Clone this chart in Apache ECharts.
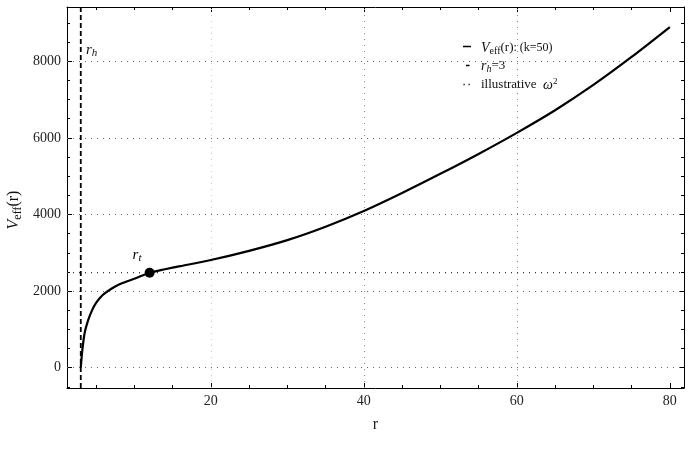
<!DOCTYPE html>
<html>
<head>
<meta charset="utf-8">
<script src="https://cdn.jsdelivr.net/npm/echarts@6/dist/echarts.min.js"></script>
<style>
  html, body { margin: 0; padding: 0; background: #fff; }
  #chart { width: 691px; height: 459px; }
</style>
</head>
<body>
<div id="chart"></div>
<script>
// values
const rValues = [3, 3.2, 3.5, 4, 4.5, 5, 5.5, 6, 7, 8, 9, 10, 12, 14, 16, 20, 25, 30, 35, 40, 45, 50, 55, 60, 65, 70, 75, 80];
const vValues = [0, 450, 900, 1260, 1510, 1690, 1820, 1920, 2060, 2170, 2250, 2320, 2480, 2570, 2650, 2810, 3050, 3330, 3680, 4090, 4560, 5060, 5580, 6130, 6720, 7380, 8110, 8890];
const rHorizon = 3;
const omega2 = 2480;
const rTurn = 12;
const vTurn = 2480;
const xMajor = [20, 40, 60, 80];
const xMinor = [5, 10, 15, 25, 30, 35, 45, 50, 55, 65, 70, 75];
const yMajor = [0, 2000, 4000, 6000, 8000];
const yMinor = [-500, 500, 1000, 1500, 2500, 3000, 3500, 4500, 5000, 5500, 6500, 7000, 7500, 8500, 9000];
const X_MIN = 1.2, X_MAX = 81.85;
const Y_MIN = -530, Y_MAX = 9415;

const serif = '"Liberation Serif", "DejaVu Serif", serif';
const chart = echarts.init(document.getElementById('chart'));

const curve = rValues.map((r, i) => [r, vValues[i]]);

function xAx(pos, vals, len, labels, line) {
    return {
        type: 'value', position: pos, min: X_MIN, max: X_MAX,
        axisLine: { show: line, onZero: false, lineStyle: { color: '#000', width: 1 } },
        axisTick: { show: true, inside: true, length: len, customValues: vals, lineStyle: { color: '#000' } },
        axisLabel: labels ? { show: true, customValues: vals, formatter: v => String(v), fontFamily: serif, fontSize: 14, color: '#222', margin: 6 } : { show: false },
        splitLine: { show: false }
    };
}
function yAx(pos, vals, len, labels, line) {
    return {
        type: 'value', position: pos, min: Y_MIN, max: Y_MAX,
        axisLine: { show: line, onZero: false, lineStyle: { color: '#000', width: 1 } },
        axisTick: { show: true, inside: true, length: len, customValues: vals, lineStyle: { color: '#000' } },
        axisLabel: labels ? { show: true, customValues: vals, formatter: v => String(v), fontFamily: serif, fontSize: 14, color: '#222', margin: 6 } : { show: false },
        splitLine: { show: false }
    };
}

const xAxes = [
    xAx('bottom', xMajor, 5, true, true),
    xAx('bottom', xMinor, 3, false, false),
    xAx('top', xMajor, 5, false, true),
    xAx('top', xMinor, 3, false, false)
];
xAxes[0].name = 'r';
xAxes[0].nameLocation = 'middle';
xAxes[0].nameGap = 29;
xAxes[0].nameTextStyle = { fontFamily: serif, fontSize: 16, color: '#222' };

const yAxes = [
    yAx('left', yMajor, 5, true, true),
    yAx('left', yMinor, 3, false, false),
    yAx('right', yMajor, 5, false, true),
    yAx('right', yMinor, 3, false, false)
];

const gridDot = (c) => ({ color: c, width: 1, type: [1, 5] });

const legendRich = {
    i: { fontFamily: serif, fontStyle: 'italic', fontSize: 14, color: '#111', lineHeight: 16 },
    n: { fontFamily: serif, fontSize: 13, color: '#111', lineHeight: 16 },
    s: { fontFamily: serif, fontSize: 12, color: '#111', lineHeight: 16 },
    sub: { fontFamily: serif, fontSize: 10, color: '#111', verticalAlign: 'bottom', lineHeight: 16, padding: [5, 0, 0, 0] },
    subi: { fontFamily: serif, fontStyle: 'italic', fontSize: 10, color: '#111', verticalAlign: 'bottom', lineHeight: 16, padding: [5, 0, 0, 0] },
    sup: { fontFamily: serif, fontSize: 9, color: '#111', verticalAlign: 'top', lineHeight: 16, padding: [0, 0, 6, 0] }
};
const legendText = {
    Veff: '{i|V}{sub|eff}{n|(r)}{s|: (k=50)}',
    rh: '{i|r}{subi|h}{n|=3}',
    omega: '{n|illustrative  }{i|ω}{sup|2}'
};

const iconLine = (x1, x2, y, dash) => ({
    type: 'line', z: 10, silent: true,
    shape: { x1: x1, y1: y, x2: x2, y2: y },
    style: { stroke: '#000', lineWidth: 1.5, lineDash: dash || null }
});

chart.setOption({
    animation: false,
    backgroundColor: '#fff',
    grid: { left: 67, right: 7, top: 7, bottom: 71 },
    xAxis: xAxes,
    yAxis: yAxes,
    legend: {
        orient: 'vertical', left: 461, top: 36, itemGap: 3,
        itemWidth: 10, itemHeight: 10, selectedMode: false,
        data: ['Veff', 'rh', 'omega'],
        icon: 'rect',
        itemStyle: { color: 'rgba(0,0,0,0)', borderWidth: 0 },
        formatter: (name) => legendText[name],
        textStyle: { rich: legendRich }
    },
    series: [
        {
            // grid lines
            type: 'line', data: [], silent: true, symbol: 'none',
            markLine: {
                silent: true, symbol: 'none', label: { show: false },
                animation: false,
                data: [
                    { xAxis: 20, lineStyle: gridDot('#c8c8c8') },
                    { xAxis: 40, lineStyle: gridDot('#888') },
                    { xAxis: 60, lineStyle: gridDot('#888') }
                ].concat(yMajor.map(v => ({ yAxis: v, lineStyle: gridDot('#666') })))
            }
        },
        {
            name: 'omega', type: 'line', symbol: 'none', silent: true,
            data: [[X_MIN, omega2], [X_MAX, omega2]],
            itemStyle: { color: '#333' },
            lineStyle: { color: '#333', width: 1.2, type: [1, 5] },
            z: 3
        },
        {
            name: 'rh', type: 'line', symbol: 'none', silent: true,
            data: [[rHorizon, Y_MIN], [rHorizon, Y_MAX]],
            itemStyle: { color: '#000' },
            lineStyle: { color: '#000', width: 1.8, type: [5, 3] },
            z: 4
        },
        {
            name: 'Veff', type: 'line', symbol: 'none', smooth: 0.25,
            data: curve,
            itemStyle: { color: '#000' },
            lineStyle: { color: '#000', width: 2.2 },
            z: 5
        },
        {
            type: 'scatter', symbolSize: 10, silent: true,
            data: [[rTurn, vTurn]],
            itemStyle: { color: '#000', opacity: 1 },
            label: {
                show: true, position: [-12, -22],
                formatter: '{i|r}{subi|t}',
                rich: {
                    i: { fontFamily: serif, fontStyle: 'italic', fontSize: 15, color: '#000', lineHeight: 18 },
                    subi: { fontFamily: serif, fontStyle: 'italic', fontSize: 11, color: '#000', verticalAlign: 'bottom', lineHeight: 18, padding: [6, 0, 0, 0] }
                }
            },
            z: 6
        }
    ],
    graphic: [
        iconLine(463, 471, 46.5),
        iconLine(466, 469.5, 65.5),
        iconLine(463.5, 470, 84.5, [1.2, 3.8]),
        {
            type: 'text', left: 86, top: 42, z: 10,
            style: {
                text: '{i|r}{subi|h}',
                rich: {
                    i: { fontFamily: serif, fontStyle: 'italic', fontSize: 15, fill: '#111', lineHeight: 18 },
                    subi: { fontFamily: serif, fontStyle: 'italic', fontSize: 11, fill: '#111', verticalAlign: 'bottom', lineHeight: 18, padding: [6, 0, 0, 0] }
                }
            }
        },
        {
            type: 'text', x: 14, y: 210, rotation: Math.PI / 2, z: 10,
            style: {
                text: '{i|V}{sub|eff}{n|(r)}',
                align: 'center', verticalAlign: 'middle',
                rich: {
                    i: { fontFamily: serif, fontStyle: 'italic', fontSize: 16, fill: '#111', lineHeight: 20 },
                    n: { fontFamily: serif, fontSize: 16, fill: '#111', lineHeight: 20 },
                    sub: { fontFamily: serif, fontSize: 12, fill: '#111', verticalAlign: 'bottom', lineHeight: 20, padding: [7, 0, 0, 0] }
                }
            }
        }
    ]
});
</script>
</body>
</html>
